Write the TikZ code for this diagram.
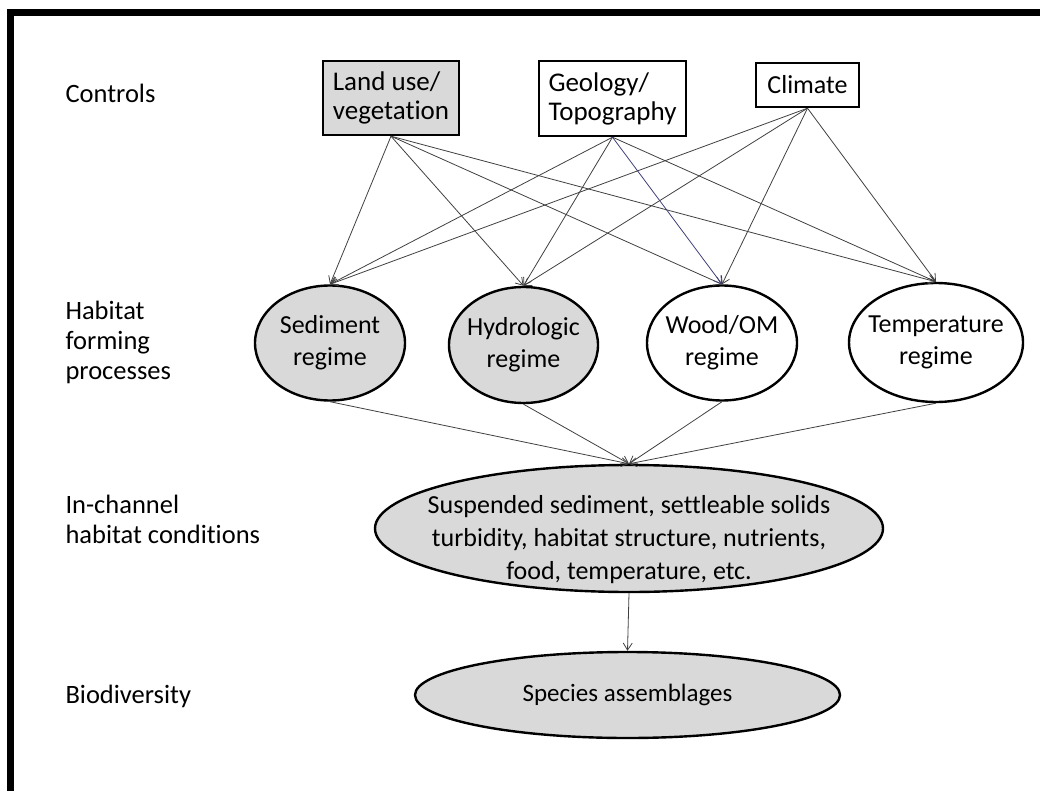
\documentclass[tikz,border=0pt]{standalone}
\usepackage{fontspec}
\setmainfont{Carlito}[Ligatures=NoCommon]
\usetikzlibrary{shapes.geometric,arrows.meta}

\tikzset{
  ctrlbox/.style={draw, line width=2.4pt, inner sep=0pt, align=left, font=\fontsize{27}{29}\selectfont},
  regime/.style={draw, ellipse, line width=2.4pt, inner xsep=-12pt, inner ysep=0pt, align=center, font=\fontsize{26}{32}\selectfont},
  lvl/.style={anchor=west, align=left, font=\fontsize{26.5}{30}\selectfont},
  link/.style={draw=black!75, line width=0.8pt, -{Straight Barb[length=7pt,width=9pt]}},
}

\begin{document}
\begin{tikzpicture}[x=1pt,y=-1pt]
  \useasboundingbox (0,0) rectangle (1040,791);
  % frame
  \draw[line width=7pt] (10.5,791) -- (10.5,13) -- (1040,13);

  % row labels
  \node[lvl] (lcontrols) at (62,93) {Controls};
  \node[lvl] (lprocess) at (62,342) {Habitat\\forming\\processes};
  \node[lvl] (lchannel) at (62,519) {In-channel\\habitat conditions};
  \node[lvl] (lbio) at (62,696) {Biodiversity};

  % controls
  \node[ctrlbox, fill=black!15, minimum width=136pt, minimum height=74pt] (land) at (391,98) {Land use/\\vegetation};
  \node[ctrlbox, minimum width=147pt, minimum height=75pt] (geo) at (612.5,98.5) {Geology/\\Topography};
  \node[ctrlbox, minimum width=103pt, minimum height=44pt, font=\fontsize{26}{29}\selectfont] (clim) at (807.5,85) {Climate};

  % habitat forming processes
  \node[regime, fill=black!15, minimum width=150pt, minimum height=115pt] (sed) at (330,343) {Sediment\\regime};
  \node[regime, fill=black!15, minimum width=149pt, minimum height=116pt] (hyd) at (523.5,345) {Hydrologic\\regime};
  \node[regime, minimum width=150pt, minimum height=115pt] (wood) at (722,343) {Wood/OM\\regime};
  \node[regime, minimum width=174pt, minimum height=119pt] (temp) at (936,342.5) {Temperature\\regime};

  % in-channel conditions and biodiversity
  \node[regime, fill=black!15, minimum width=508pt, minimum height=127pt,
        label={[align=center, font=\fontsize{26}{33}\selectfont, yshift=-11pt]center:Suspended sediment, settleable solids\\turbidity, habitat structure, nutrients,\\food, temperature, etc.}] (cond) at (629,528.5) {};
  \node[regime, fill=black!15, minimum width=425pt, minimum height=86pt, font=\fontsize{25}{30}\selectfont] (species) at (627.5,695) {Species assemblages};

  % links
  \foreach \c in {land,geo,clim}
    \foreach \r in {sed,hyd,temp}
      \draw[link] (\c.south) -- (\r.north);
  \draw[link] (land.south) -- (wood.north);
  \draw[link, draw=blue!30!black!75] (geo.south) -- (wood.north);
  \draw[link] (clim.south) -- (wood.north);
  \foreach \r in {sed,hyd,wood,temp}
    \draw[link] (\r.south) -- (cond.north);
  \draw[link] (cond.south) -- (species.north);
\end{tikzpicture}
\end{document}
